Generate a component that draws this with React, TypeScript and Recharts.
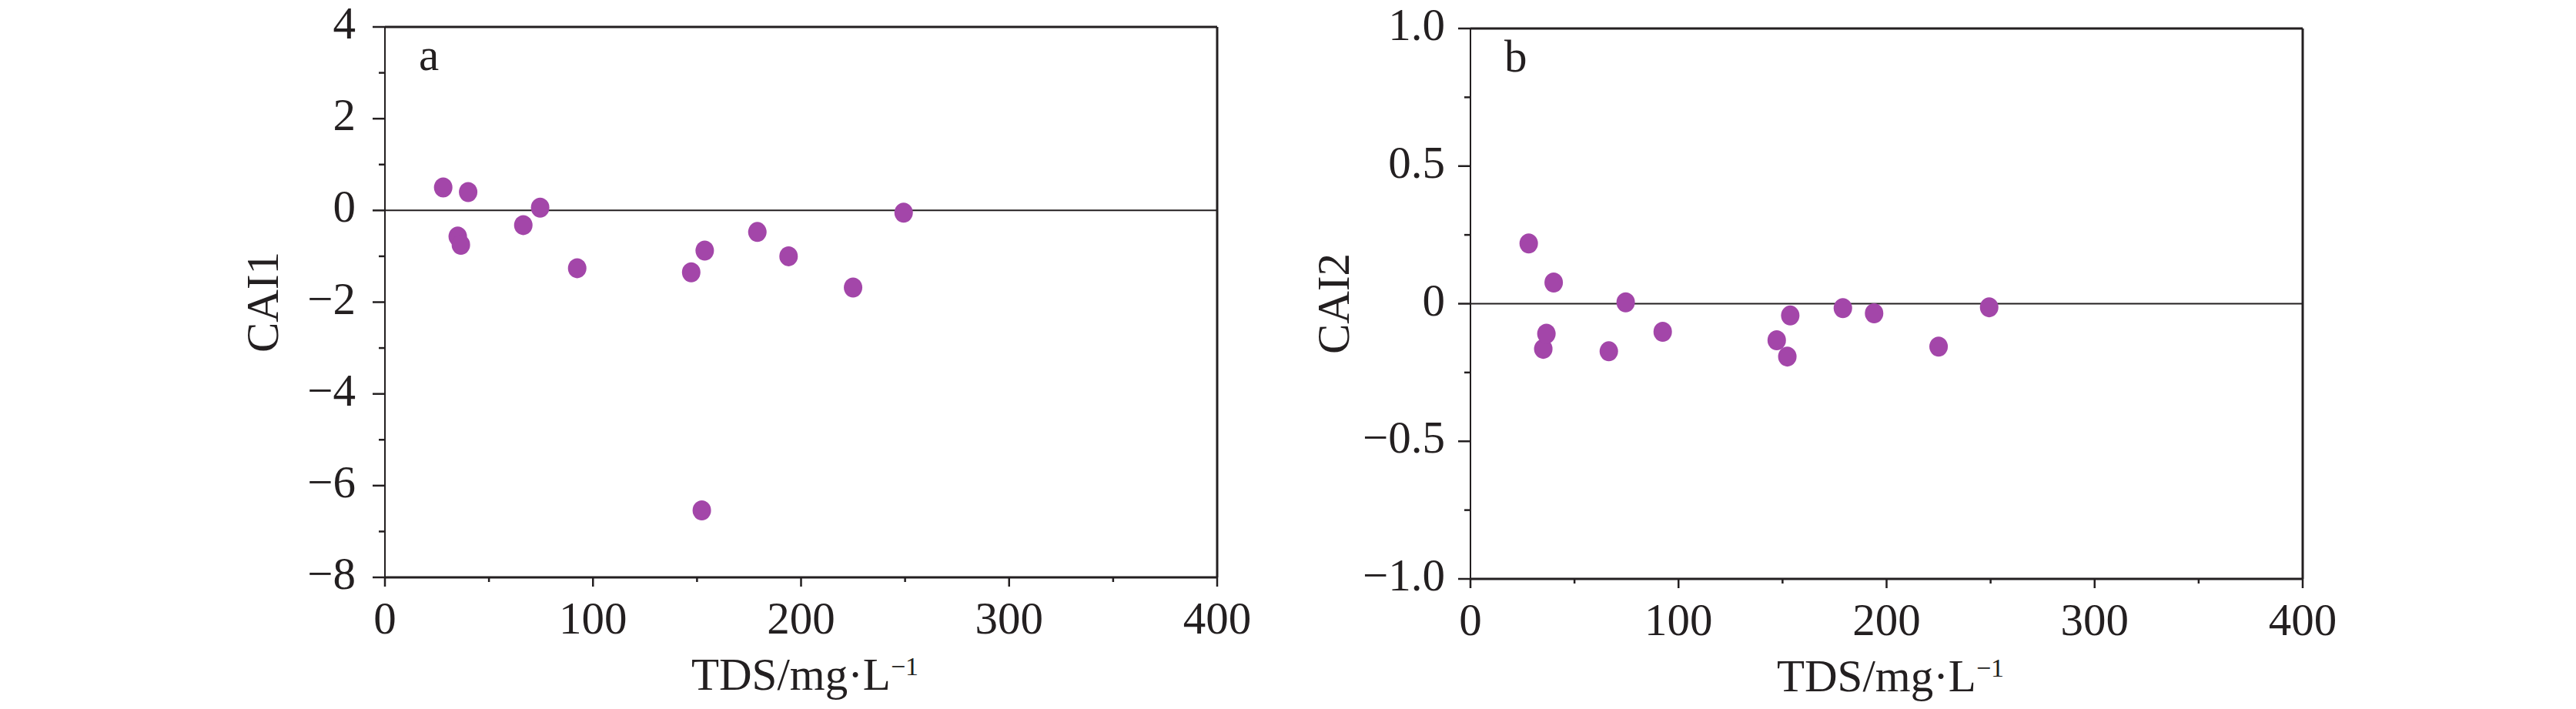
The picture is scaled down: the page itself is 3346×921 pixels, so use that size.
import { ScatterChart, Scatter, XAxis, YAxis, ReferenceLine } from 'recharts'

// TDS (mg/L) of the sampled waters, shared by both panels
const tds = [28, 35, 36.5, 40, 66.5, 74.6, 92.4, 147.2, 152.3, 153.7, 179, 194, 225, 249.3]
const cai1 = [0.5, -0.57, -0.75, 0.4, -0.32, 0.06, -1.26, -1.35, -6.54, -0.875, -0.47, -1.0, -1.68, -0.05]
const cai2 = [0.219, -0.164, -0.109, 0.077, -0.173, 0.005, -0.102, -0.133, -0.192, -0.043, -0.016, -0.035, -0.156, -0.013]

const xTicks = [0, 50, 100, 150, 200, 250, 300, 350, 400]
const xMajor = [0, 100, 200, 300, 400]
const cai1Ticks = [-8, -7, -6, -5, -4, -3, -2, -1, 0, 1, 2, 3, 4]
const cai1Major = [-8, -6, -4, -2, 0, 2, 4]
const cai2Ticks = [-1, -0.75, -0.5, -0.25, 0, 0.25, 0.5, 0.75, 1]
const cai2Major = [-1, -0.5, 0, 0.5, 1]

const INK = '#231f20'
const PURPLE = '#a346a9'
const FONT = '"Liberation Serif", "Times New Roman", serif'
const FS = 59

const minus = (s: string) => s.replace('-', '\u2212')
const fmt1 = (v: number) => minus(String(v))
const fmt2 = (v: number) => (v === 0 ? '0' : minus(v.toFixed(1)))

function YTick(props: any) {
  const { x, y, payload, major, gap, fmt } = props
  const isMajor = major.includes(payload.value)
  return (
    <g>
      <line x1={x - (isMajor ? 16 : 8)} x2={x} y1={y} y2={y} stroke={INK} strokeWidth={2.5} />
      {isMajor && (
        <text x={x - gap} y={y + 15} textAnchor="end" fontSize={FS} fontFamily={FONT} fill={INK}>
          {fmt(payload.value)}
        </text>
      )}
    </g>
  )
}

function XTick(props: any) {
  const { x, y, payload } = props
  const isMajor = xMajor.includes(payload.value)
  return (
    <g>
      <line x1={x} x2={x} y1={y} y2={y + (isMajor ? 12 : 6)} stroke={INK} strokeWidth={2.5} />
      {isMajor && (
        <text x={x} y={y + 73} textAnchor="middle" fontSize={FS} fontFamily={FONT} fill={INK}>
          {payload.value}
        </text>
      )}
    </g>
  )
}

function Panel(props: any) {
  const { values, ticks, major, domain, fmt, name, letter, left, top, plotLeft, plotRight, bottom, gap, labelDist } = props
  const data = tds.map((t, i) => ({ tds: t, v: values[i] }))
  const W = 1673
  const H = 921
  return (
    <div style={{ position: 'absolute', left, top: 0 }}>
      <ScatterChart width={W} height={H} margin={{ top, right: W - plotRight, bottom: 0, left: 0 }}>
        <XAxis
          type="number"
          dataKey="tds"
          domain={[0, 400]}
          ticks={xTicks}
          interval={0}
          height={H - bottom}
          tickSize={0}
          tickMargin={0}
          tickLine={false}
          axisLine={{ stroke: INK, strokeWidth: 3 }}
          tick={(p: any) => <XTick {...p} />}
          label={{
            content: (p: any) => {
              const vb = p.viewBox || { x: plotLeft, y: bottom, width: plotRight - plotLeft, height: H - bottom }
              return (
                <text
                  x={vb.x + vb.width / 2 + 5}
                  y={vb.y + 146}
                  textAnchor="middle"
                  fontSize={FS}
                  fontFamily={FONT}
                  fill={INK}
                >
                  <tspan>TDS/mg·L</tspan>
                  <tspan dy={-19} fontSize={34}>{'\u22121'}</tspan>
                </text>
              )
            },
          }}
        />
        <YAxis
          type="number"
          dataKey="v"
          domain={domain}
          ticks={ticks}
          interval={0}
          width={plotLeft}
          tickSize={0}
          tickMargin={0}
          tickLine={false}
          axisLine={{ stroke: INK, strokeWidth: 2 }}
          tick={(p: any) => <YTick {...p} major={major} gap={gap} fmt={fmt} />}
          label={{
            content: (p: any) => {
              const vb = p.viewBox || { x: 0, y: top, width: plotLeft, height: bottom - top }
              const cx = vb.x + vb.width - labelDist
              const cy = vb.y + vb.height / 2
              return (
                <text
                  x={cx}
                  y={cy}
                  transform={`rotate(-90, ${cx}, ${cy})`}
                  textAnchor="middle"
                  dominantBaseline="central"
                  fontSize={FS}
                  fontFamily={FONT}
                  fill={INK}
                >
                  {name}
                </text>
              )
            },
          }}
        />
        <ReferenceLine
          y={domain[1]}
          stroke={INK}
          strokeWidth={3}
          label={{
            content: (p: any) => {
              const vb = p.viewBox || { x: plotLeft, y: top }
              return (
                <text x={vb.x + 44} y={vb.y + 56} fontSize={FS} fontFamily={FONT} fill={INK}>
                  {letter}
                </text>
              )
            },
          }}
        />
        <ReferenceLine x={400} stroke={INK} strokeWidth={3} />
        <ReferenceLine y={0} stroke={INK} strokeWidth={2} />
        <Scatter
          data={data}
          isAnimationActive={false}
          shape={(p: any) => <ellipse cx={p.cx} cy={p.cy} rx={12} ry={13} fill={PURPLE} />}
        />
      </ScatterChart>
    </div>
  )
}

export default function App() {
  return (
    <div style={{ position: 'absolute', left: 0, top: 0, width: 3346, height: 921, background: '#fff' }}>
      <Panel
        values={cai1}
        ticks={cai1Ticks}
        major={cai1Major}
        domain={[-8, 4]}
        fmt={fmt1}
        name="CAI1"
        letter="a"
        left={0}
        top={35}
        plotLeft={500}
        plotRight={1581}
        bottom={750}
        gap={38}
        labelDist={159}
      />
      <Panel
        values={cai2}
        ticks={cai2Ticks}
        major={cai2Major}
        domain={[-1, 1]}
        fmt={fmt2}
        name="CAI2"
        letter="b"
        left={1673}
        top={37}
        plotLeft={237}
        plotRight={1318}
        bottom={752}
        gap={33}
        labelDist={178}
      />
    </div>
  )
}
